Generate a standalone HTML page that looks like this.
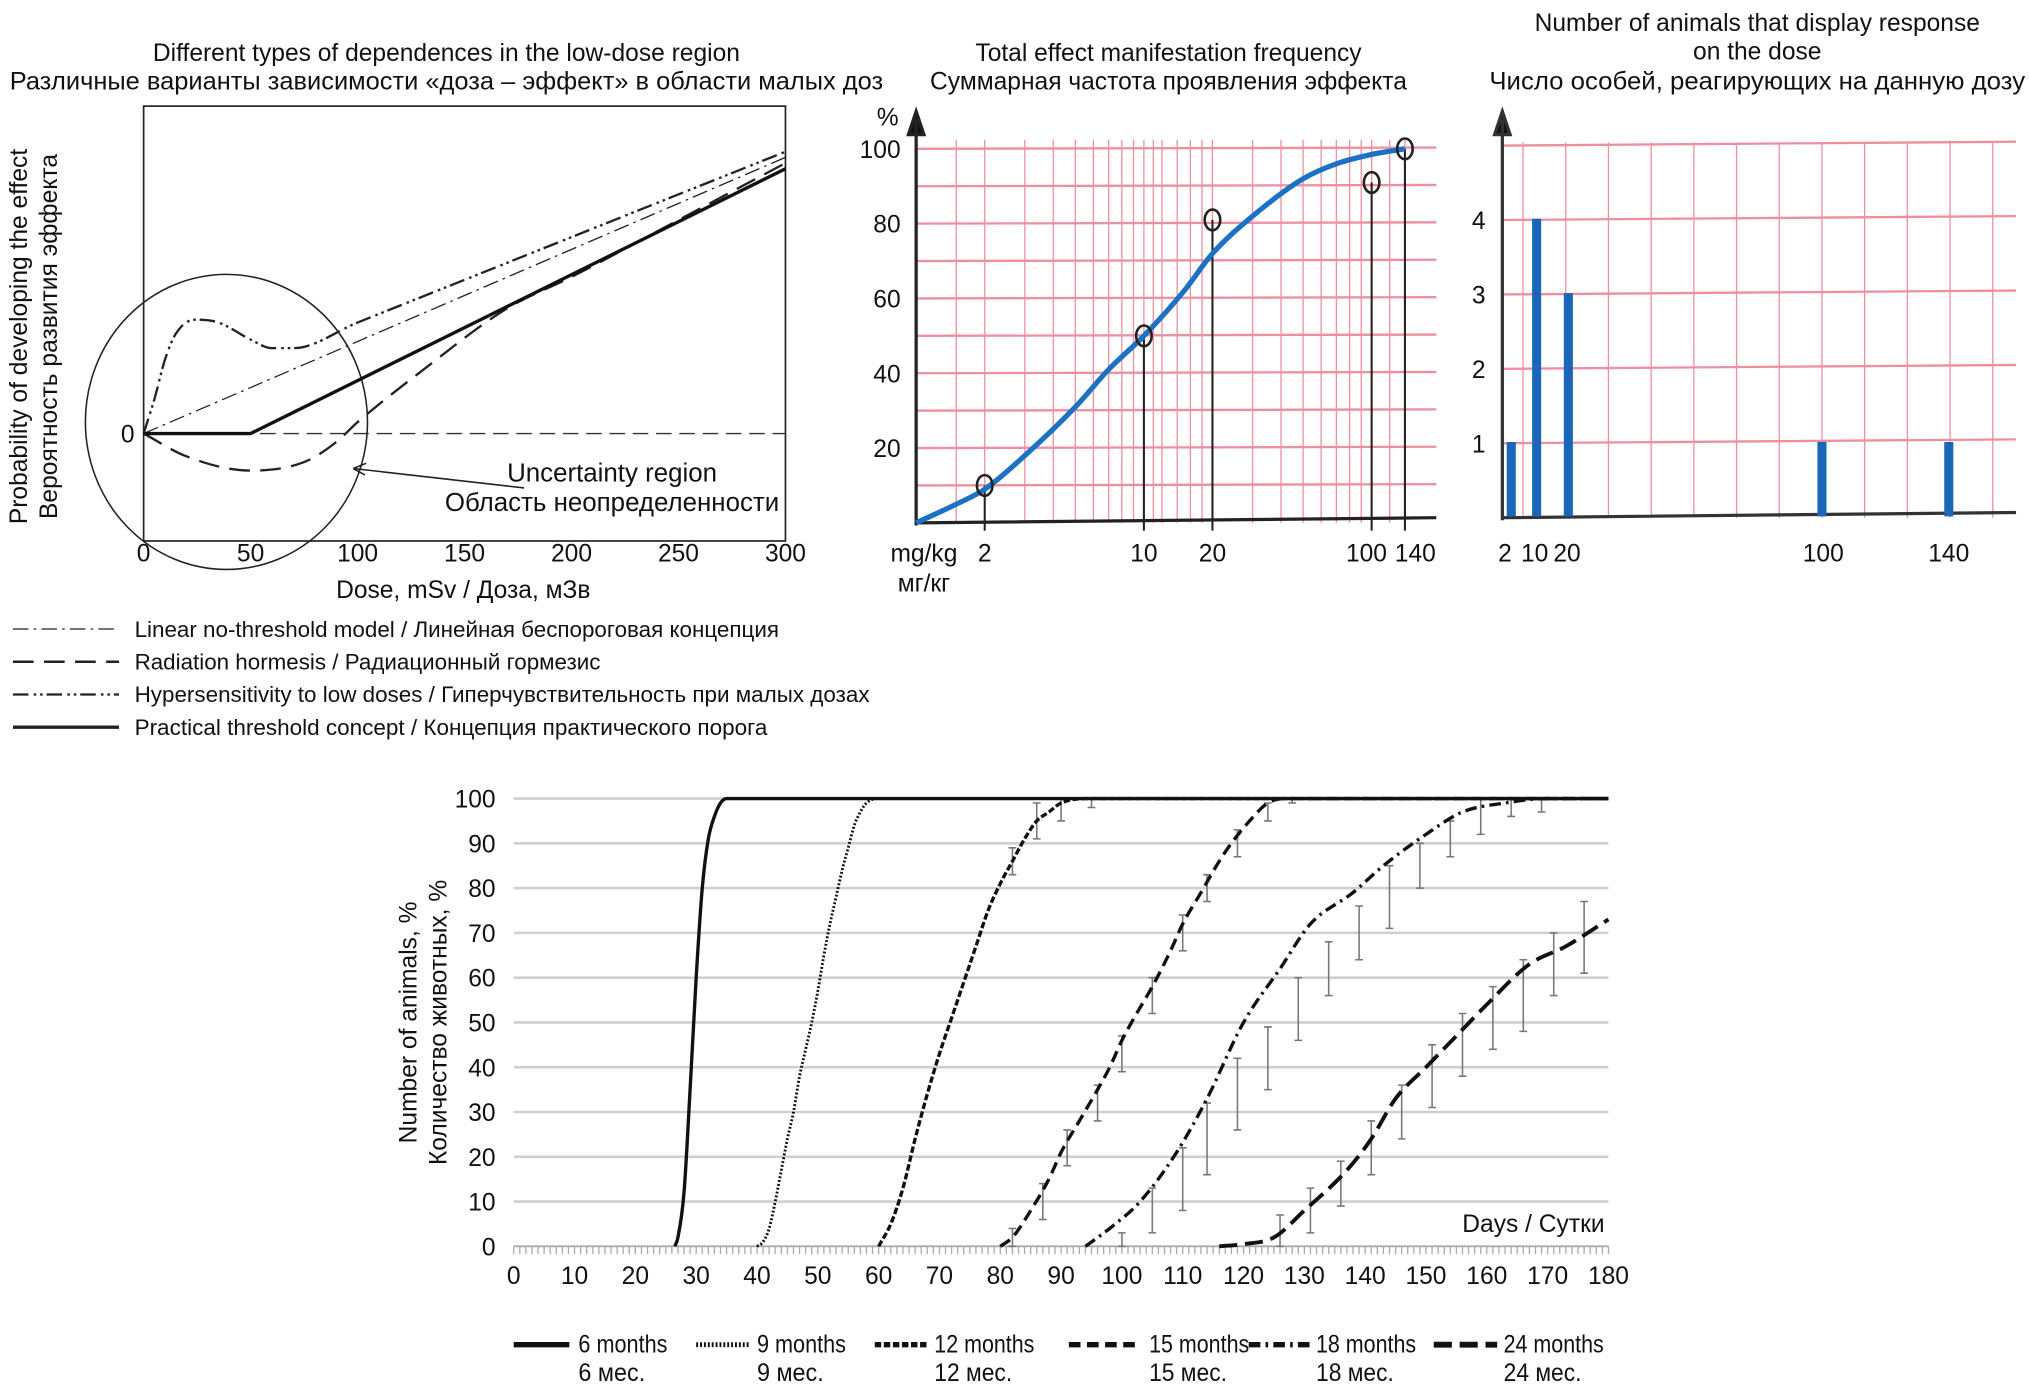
<!DOCTYPE html>
<html><head><meta charset="utf-8">
<style>
html,body{margin:0;padding:0;background:#fff;}
svg{display:block;}
text{font-family:"Liberation Sans Narrow","Liberation Sans",sans-serif;fill:#111;}
</style></head>
<body>
<svg id="fig" width="2029" height="1390" viewBox="0 0 1568 1074" preserveAspectRatio="none" xmlns="http://www.w3.org/2000/svg">
<g id="c1"></g>
<g id="c2"></g>
<g id="c3"></g>
<g id="c4"></g>
</svg>
<script>
// ---------- Chart 1 data ----------
const c1Dose = [0,50,100,150,200,250,300];
const lntDose = [0,300]; const lntProb = [0,0.97];
const hormDose = [0,20,50,75,90,100,130,170,200,250,300];
const hormProb = [0,-0.08,-0.13,-0.10,-0.03,0.04,0.22,0.44,0.55,0.75,0.95];
const hypDose = [0,5,10,15,24,35,50,60,70,100,200,300];
const hypProb = [0,0.12,0.26,0.35,0.40,0.39,0.33,0.30,0.30,0.39,0.69,0.99];
const thrDose = [0,50,300]; const thrProb = [0,0,0.93];
// ---------- Chart 2 data ----------
const c2Ticks = [20,40,60,80,100];
const c2XLabels = [2,10,20,100,140];
const c2PointDose = [2,10,20,100,140];
const c2PointVal = [10,50,81,91,100];
const c2CurveDose = [1,1.5,2,3,5,7,10,15,20,30,50,70,100,140];
const c2CurveVal = [0,5,9,18,31,41,50,62,72,82,92,96,98.5,100];
// ---------- Chart 3 data ----------
const c3Doses = [2,10,20,100,140];
const c3Counts = [1,4,3,1,1];
const c3Ticks = [1,2,3,4];
// ---------- Chart 4 data ----------
const c4XTicks = [0,10,20,30,40,50,60,70,80,90,100,110,120,130,140,150,160,170,180];
const c4YTicks = [0,10,20,30,40,50,60,70,80,90,100];
const m6Days = [26.5,27,28,29,30,31,32,33,34,35,180];
const m6Vals = [0,2,12,35,60,80,91,96,99,100,100];
const m9Days = [40,41,42,43,44,45,46,47,48,49,50,51,52,53,54,55,56,57,58,60,180];
const m9Vals = [0,1,4,10,17,24,30,38,44,50,57,65,72,78,84,89,94,97,99,100,100];
const m12Days = [60,62,64,66,68,70,72,74,76,78,80,82,84,86,88,90,95,180];
const m12Vals = [0,5,13,24,34,43,51,59,67,75,81,86,91,95,97,99,100,100];
const m15Days = [80,82,85,88,90,93,96,98,100,102,105,108,110,113,116,118,121,124,127,180];
const m15Vals = [0,2,8,15,21,28,35,40,46,51,58,66,72,79,86,90,95,99,100,100];
const m18Days = [94,98,103,109,114,120,126,131,138,143,150,156,163,170,180];
const m18Vals = [0,4,10,21,33,50,62,72,79,85,92,97,99,100,100];
const m24Days = [116,120,125,130,137,141,145,150,155,160,167,173,180];
const m24Vals = [0,0.5,2,8,17,24,33,40,47,54,63,67,73];
const m12ErrDays = [82,86,90,95]; const m12ErrVals = [86,95,98,100]; const m12ErrHalf = [3,4,3,2];
const m15ErrDays = [82,87,91,96,100,105,110,114,119,124,128]; const m15ErrVals = [2,10,22,32,43,56,70,80,90,97,100]; const m15ErrHalf = [2,4,4,4,4,4,4,3,3,2,1];
const m18ErrDays = [100,105,110,114,119,124,129,134,139,144,149,154,159,164,169]; const m18ErrVals = [1,8,15,24,34,42,53,62,70,78,85,91,96,98,99]; const m18ErrHalf = [2,5,7,8,8,7,7,6,6,7,5,4,4,2,2];
const m24ErrDays = [126,131,136,141,146,151,156,161,166,171,176]; const m24ErrVals = [3,8,14,22,30,38,45,51,56,63,69]; const m24ErrHalf = [4,5,5,6,6,7,7,7,8,7,8];

const NS="http://www.w3.org/2000/svg";
function el(tag,parent,attrs){const e=document.createElementNS(NS,tag);for(const k in attrs)e.setAttribute(k,attrs[k]);parent.appendChild(e);return e;}
function txt(parent,x,y,s,size,anchor,name,extra){const t=el('text',parent,Object.assign({x:x,y:y,'font-size':size,'text-anchor':anchor||'start'},extra||{}));t.textContent=s;


return t;}
function poly(xs,ys){return xs.map((x,i)=>(i?'L':'M')+x.toFixed(2)+' '+ys[i].toFixed(2)).join(' ');}
function smooth(xs,ys){const n=xs.length;if(n<3)return poly(xs,ys);
const d=[],m=[];for(let i=0;i<n-1;i++)d.push((ys[i+1]-ys[i])/(xs[i+1]-xs[i]));
m[0]=d[0];m[n-1]=d[n-2];for(let i=1;i<n-1;i++){m[i]=(d[i-1]*d[i]<=0)?0:(d[i-1]+d[i])/2;}
for(let i=0;i<n-1;i++){if(d[i]===0){m[i]=0;m[i+1]=0;continue;}const a=m[i]/d[i],b=m[i+1]/d[i],s=a*a+b*b;if(s>9){const t=3/Math.sqrt(s);m[i]=t*a*d[i];m[i+1]=t*b*d[i];}}
let p='M'+xs[0].toFixed(2)+' '+ys[0].toFixed(2);
for(let i=0;i<n-1;i++){const h=(xs[i+1]-xs[i])/3;p+=' C'+(xs[i]+h).toFixed(2)+' '+(ys[i]+m[i]*h).toFixed(2)+' '+(xs[i+1]-h).toFixed(2)+' '+(ys[i+1]-m[i+1]*h).toFixed(2)+' '+xs[i+1].toFixed(2)+' '+ys[i+1].toFixed(2);}
return p;}

// ===== Chart 1 =====
(function(){
const g=document.getElementById('c1');
const X=d=>111+d*(496/300), Y=p=>335-p*220;
txt(g,345,47,'Different types of dependences in the low-dose region',19,'middle','chart1-title-en');
txt(g,345,69,'Различные варианты зависимости «доза – эффект» в области малых доз',19,'middle','chart1-title-ru',{textLength:675,lengthAdjust:'spacingAndGlyphs'});
const box=el('rect',g,{x:111,y:82,width:496,height:336,fill:'none',stroke:'#222','stroke-width':1.3});


const zl=el('line',g,{x1:111,y1:Y(0),x2:607,y2:Y(0),stroke:'#333','stroke-width':1,'stroke-dasharray':'12 6'});


txt(g,104,342,'0',19,'end','y-zero-label');
c1Dose.forEach(d=>{txt(g,X(d),434,String(d),19,'middle','x-tick-label');});
txt(g,358,462,'Dose, mSv / Доза, мЗв',19,'middle','x-axis-title');
txt(g,0,0,'Probability of developing the effect',19,'middle','y-axis-title-en',{transform:'translate(21,260) rotate(-90)'});
txt(g,0,0,'Вероятность развития эффекта',19,'middle','y-axis-title-ru',{transform:'translate(44,260) rotate(-90)'});
const circ=el('ellipse',g,{cx:175,cy:326,rx:109,ry:114,fill:'none',stroke:'#222','stroke-width':1.2});


const lnt=el('path',g,{d:poly(lntDose.map(X),lntProb.map(Y)),fill:'none',stroke:'#222','stroke-width':1,'stroke-dasharray':'12 4 2 4'});


const hor=el('path',g,{d:smooth(hormDose.map(X),hormProb.map(Y)),fill:'none',stroke:'#222','stroke-width':1.8,'stroke-dasharray':'16 8'});


const hyp=el('path',g,{d:smooth(hypDose.map(X),hypProb.map(Y)),fill:'none',stroke:'#222','stroke-width':1.8,'stroke-dasharray':'12 4 2 3 2 3'});


const thr=el('path',g,{d:poly(thrDose.map(X),thrProb.map(Y)),fill:'none',stroke:'#111','stroke-width':2.6});


const ar=el('path',g,{d:'M405 377 L273 362 M273 362 l10 -4 M273 362 l9 5',fill:'none',stroke:'#222','stroke-width':1.2});


txt(g,473,372,'Uncertainty region',20,'middle','uncertainty-label-en');
txt(g,473,395,'Область неопределенности',20,'middle','uncertainty-label-ru');
const leg=[['Linear no-threshold model / Линейная беспороговая концепция','12 4 2 4',1,'legend-lnt',498],
['Radiation hormesis / Радиационный гормезис','16 8',2,'legend-hormesis',360],
['Hypersensitivity to low doses / Гиперчувствительность при малых дозах','12 4 2 3 2 3',1.8,'legend-hypersensitivity',568],
['Practical threshold concept / Концепция практического порога','',2.6,'legend-threshold',489]];
leg.forEach((l,i)=>{const y=486+i*25.3;
const ln=el('line',g,{x1:10,y1:y,x2:92,y2:y,stroke:'#222','stroke-width':l[2],'stroke-dasharray':l[1]||'none'});


txt(g,104,y+6,l[0],17,'start',l[3]+'-label',{textLength:l[4],lengthAdjust:'spacingAndGlyphs'});});
})();

// ===== Chart 2 =====
(function(){
const g=document.getElementById('c2');
const X=d=>708+176*Math.log10(d), Y=v=>404-v*2.89;
txt(g,903,47,'Total effect manifestation frequency',19,'middle','chart2-title-en');
txt(g,903,69,'Суммарная частота проявления эффекта',19,'middle','chart2-title-ru');
const pink='#ee8fa0';
for(let v=10;v<=100;v+=10){const l=el('line',g,{x1:708,y1:Y(v),x2:1110,y2:Y(v)-1,stroke:pink,'stroke-width':1.8});

}
const vg=[1.5,2,3,4,5,6,7,8,9,10,11,12,14,16,18,20,30,40,50,60,70,80,90,100,120,140];
vg.forEach(d=>{const l=el('line',g,{x1:X(d),y1:108,x2:X(d),y2:404,stroke:pink,'stroke-width':1});

});
const ax=el('path',g,{d:'M708 406 L708 92 M702 104 L708 86 L714 104 Z M708 404 L1110 400',fill:'#111',stroke:'#222','stroke-width':2.5});


txt(g,686,97,'%',19,'middle','y-unit-label');
c2Ticks.forEach(v=>txt(g,696,Y(v)+7,String(v),19,'end','y-tick-label'));
c2XLabels.forEach((d,i)=>txt(g,X(d)+(i==3?-4:i==4?8:0),434,String(d),19,'middle','x-tick-label'));
txt(g,714,434,'mg/kg',19,'middle','x-unit-en');
txt(g,714,457,'мг/кг',19,'middle','x-unit-ru');
c2PointDose.forEach((d,i)=>{const s=el('line',g,{x1:X(d),y1:Y(c2PointVal[i]),x2:X(d),y2:410,stroke:'#222','stroke-width':1.6});

});
const cv=el('path',g,{d:smooth(c2CurveDose.map(X),c2CurveVal.map(Y)),fill:'none',stroke:'#1b72c4','stroke-width':4});


c2PointDose.forEach((d,i)=>{const c=el('ellipse',g,{cx:X(d),cy:Y(c2PointVal[i]),rx:6,ry:8,fill:'none',stroke:'#222','stroke-width':2});

});
})();

// ===== Chart 3 =====
(function(){
const g=document.getElementById('c3');
const X=d=>1163+2.45*d, Y=v=>399-v*57.5;
txt(g,1358,24,'Number of animals that display response',19,'middle','chart3-title-line1');
txt(g,1358,46,'on the dose',19,'middle','chart3-title-line2');
txt(g,1358,69,'Число особей, реагирующих на данную дозу',19,'middle','chart3-title-ru',{textLength:414,lengthAdjust:'spacingAndGlyphs'});
const pink='#ee8fa0';
for(let v=1;v<=5;v++){const l=el('line',g,{x1:1161,y1:Y(v)+1,x2:1558,y2:Y(v)-2,stroke:pink,'stroke-width':1.8});

}
for(let x=1177;x<1560;x+=33){const l=el('line',g,{x1:x,y1:110,x2:x,y2:400,stroke:pink,'stroke-width':1});

}
const ax=el('path',g,{d:'M1161 402 L1161 92 M1155 104 L1161 86 L1167 104 Z M1161 400 L1558 396',fill:'#111',stroke:'#333','stroke-width':2.5});


c3Ticks.forEach(v=>txt(g,1148,Y(v)+8,String(v),19,'end','y-tick-label'));
c3Doses.forEach((d,i)=>{const b=el('rect',g,{x:X(d)-3.5,y:Y(c3Counts[i]),width:7,height:c3Counts[i]*57.5,fill:'#1a66b8'});

});
txt(g,1163,434,'2',19,'middle','x-tick-label');
txt(g,1186,434,'10',19,'middle','x-tick-label');
txt(g,1211,434,'20',19,'middle','x-tick-label');
txt(g,1409,434,'100',19,'middle','x-tick-label');
txt(g,1506,434,'140',19,'middle','x-tick-label');
})();

// ===== Chart 4 =====
(function(){
const g=document.getElementById('c4');
const X=d=>397+d*(846/180), Y=v=>963-v*3.46;
c4YTicks.forEach(v=>{if(v>0){const l=el('line',g,{x1:397,y1:Y(v),x2:1243,y2:Y(v),stroke:'#cfcfcf','stroke-width':2});

}
txt(g,383,Y(v)+7,String(v),19,'end','y-tick-label');});
const base=el('line',g,{x1:397,y1:963,x2:1243,y2:963,stroke:'#aaa','stroke-width':1.5});


let dd='';for(let d=0;d<=180;d++){dd+='M'+X(d).toFixed(2)+' 963 L'+X(d).toFixed(2)+' 969 ';}
const mt=el('path',g,{d:dd,stroke:'#aaa','stroke-width':1});


c4XTicks.forEach(d=>txt(g,X(d),992,String(d),19,'middle','x-tick-label'));
txt(g,1240,952,'Days / Сутки',19,'end','x-axis-title');
txt(g,0,0,'Number of animals, %',19,'middle','y-axis-title-en',{transform:'translate(322,790) rotate(-90)'});
txt(g,0,0,'Количество животных, %',19,'middle','y-axis-title-ru',{transform:'translate(345,790) rotate(-90)'});
const series=[[m6Days,m6Vals,'none',2.6,'series-6-months'],[m9Days,m9Vals,'1.5 1.5',2.2,'series-9-months'],[m12Days,m12Vals,'5 2',2.6,'series-12-months'],[m15Days,m15Vals,'9 5',2.6,'series-15-months'],[m18Days,m18Vals,'9 4 2 4',2.6,'series-18-months'],[m24Days,m24Vals,'14 6',3,'series-24-months']];
const errs=[[m12ErrDays,m12ErrVals,m12ErrHalf],[m15ErrDays,m15ErrVals,m15ErrHalf],[m18ErrDays,m18ErrVals,m18ErrHalf],[m24ErrDays,m24ErrVals,m24ErrHalf]];
errs.forEach(e=>{e[0].forEach((d,i)=>{const x=X(d),y1=Y(Math.min(100,e[1][i]+e[2][i])),y2=Y(Math.max(0,e[1][i]-e[2][i]));
const p=el('path',g,{d:'M'+x+' '+y1+' L'+x+' '+y2+' M'+(x-3)+' '+y1+' L'+(x+3)+' '+y1+' M'+(x-3)+' '+y2+' L'+(x+3)+' '+y2,stroke:'#777','stroke-width':1.2,fill:'none'});

});});
series.slice().reverse().forEach(s=>{const p=el('path',g,{d:smooth(s[0].map(X),s[1].map(Y)),fill:'none',stroke:'#111','stroke-width':s[3],'stroke-dasharray':s[2]});

});
const legx=[[397,440,447,'6 months','6 мес.'],[538,580,585,'9 months','9 мес.'],[676,718,722,'12 months','12 мес.'],[826,880,888,'15 months','15 мес.'],[965,1012,1017,'18 months','18 мес.'],[1108,1157,1162,'24 months','24 мес.']];
legx.forEach((l,i)=>{const s=series[i];
const ln=el('line',g,{x1:l[0],y1:1039,x2:l[1],y2:1039,stroke:'#111','stroke-width':s[3]+1.5,'stroke-dasharray':s[2]});


txt(g,l[2],1045,l[3],19,'start','legend-label',{textLength:l[3].length*8.6,lengthAdjust:'spacingAndGlyphs'});
txt(g,l[2],1067,l[4],19,'start','legend-label-ru',{textLength:l[4].length*8.6,lengthAdjust:'spacingAndGlyphs'});});
})();
</script>
</body></html>
